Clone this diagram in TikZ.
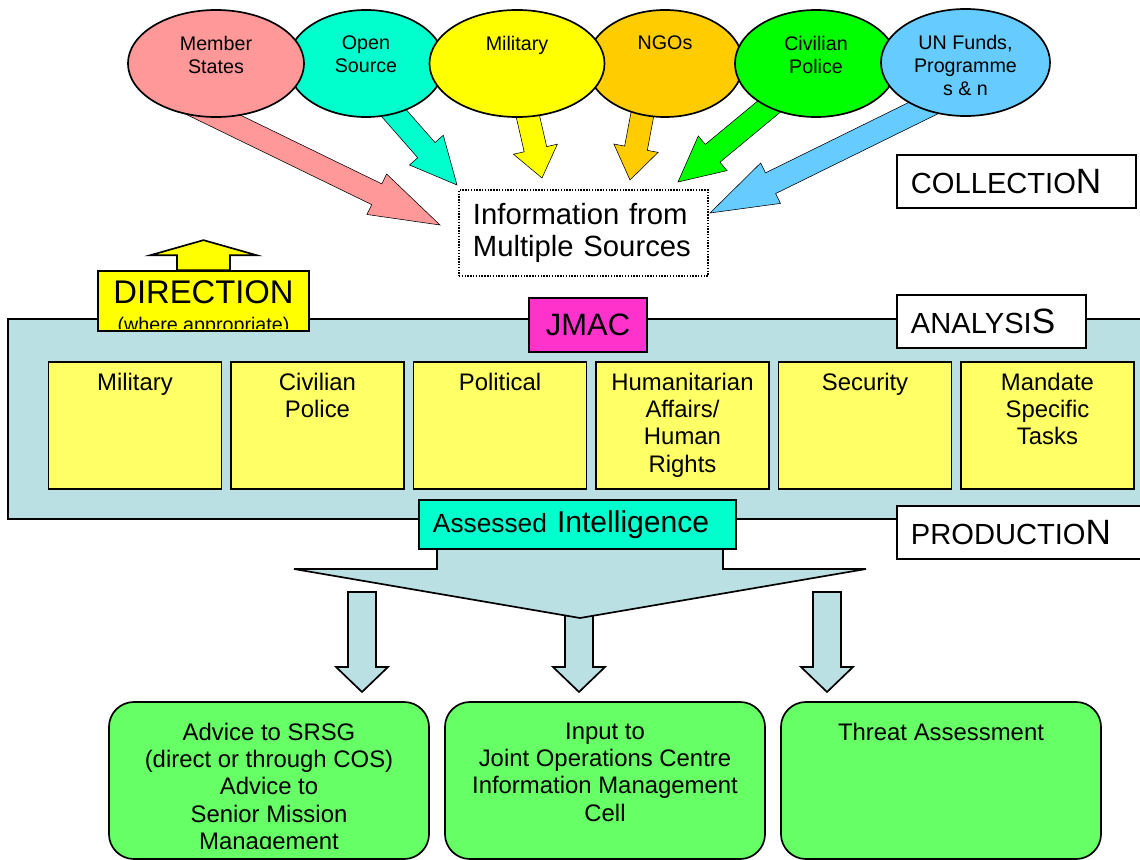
\documentclass[tikz,border=0pt]{standalone}
\usepackage{fontspec}
\setmainfont{Liberation Sans}
\usetikzlibrary{shapes.geometric, positioning, calc, backgrounds}

\definecolor{msred}{RGB}{255,153,153}
\definecolor{osrccyan}{RGB}{0,255,204}
\definecolor{milyellow}{RGB}{255,255,0}
\definecolor{ngoorange}{RGB}{255,204,0}
\definecolor{civgreen}{RGB}{0,255,0}
\definecolor{unblue}{RGB}{102,204,255}
\definecolor{bandblue}{RGB}{187,224,227}
\definecolor{cellyellow}{RGB}{255,255,102}
\definecolor{jmacpink}{RGB}{255,51,204}
\definecolor{outgreen}{RGB}{102,255,102}

% block arrow: from, to, fill, shaft half width, head half width, head length
\newcommand{\fatarrow}[6]{%
  \draw[fill=#3, line join=miter]
    ($(#1)!#4!90:(#2)$) --
    ($(#2)!#6!(#1)!#4!-90:(#1)$) --
    ($(#2)!#6!(#1)!#5!-90:(#1)$) -- (#2) --
    ($(#2)!#6!(#1)!#5!90:(#1)$) --
    ($(#2)!#6!(#1)!#4!90:(#1)$) --
    ($(#1)!#4!-90:(#2)$) -- cycle;}

\begin{document}
\begin{tikzpicture}[x=0.025cm, y=-0.025cm, line width=1.2pt,
  src/.style={ellipse, draw, minimum width=#1, minimum height=2.675cm},
  srctext/.style={align=center, inner sep=0pt, font=\fontsize{14}{16.4}\selectfont},
  stage/.style={draw, fill=white, minimum height=1.325cm, inner xsep=0.35cm, align=left, font=\fontsize{20.7}{23}\selectfont},
  cellbox/.style={draw, fill=cellyellow, minimum width=4.325cm, minimum height=3.175cm},
  celltext/.style={align=center, inner sep=0pt, font=\fontsize{17}{19.4}\selectfont},
  outbox/.style={draw, fill=outgreen, rounded corners=0.625cm, minimum width=8cm, minimum height=3.925cm},
  outtext/.style={align=center, inner sep=0pt, font=\fontsize{17}{19.4}\selectfont}]
\useasboundingbox (0,0) rectangle (1140,860);

% Sources
\node[src=3.925cm, fill=osrccyan] (osrc) at (366,63.5) {};
\node[src=3.9cm, fill=ngoorange] (ngo) at (665,63.5) {};
\node[src=4.4cm, fill=msred] (ms) at (216,63.5) {};
\node[src=4.375cm, fill=milyellow] (mil) at (517,63.5) {};
\node[src=4.05cm, fill=civgreen] (civ) at (816,63.5) {};
\node[src=4.225cm, fill=unblue] (un) at (965.5,62.5) {};

\node[srctext, below=0.65cm of ms.north] {Member\\States};
\node[srctext, below=0.65cm of osrc.north] {Open\\Source};
\node[srctext, below=0.65cm of mil.north] {Military};
\node[srctext, below=0.65cm of ngo.north] {NGOs};
\node[srctext, below=0.65cm of civ.north] {Civilian\\Police};
\node[srctext, below=0.65cm of un.north] {UN Funds,\\Programme\\s \& n};

\node[draw, dash pattern=on 1pt off 1pt, line width=0.8pt, minimum width=6.225cm, minimum height=2.15cm,
  inner xsep=0.35cm, text width=5.525cm, align=left, font=\fontsize{20.8}{22.8}\selectfont]
  (info) at (583.5,233) {Information from\\Multiple Sources};
\node[stage, text width=5.275cm] (coll) at (1016.5,181.5) {COLLECTIO{\fontsize{25}{28}\selectfont N}};

% Collection arrows
\coordinate (ms-tail) at (183,100);   \coordinate (ms-tip) at (440,225);
\coordinate (osrc-tail) at (378,95);  \coordinate (osrc-tip) at (457,185);
\coordinate (mil-tail) at (523,95);   \coordinate (mil-tip) at (542,178);
\coordinate (ngo-tail) at (646,95);   \coordinate (ngo-tip) at (630,180);
\coordinate (civ-tail) at (783,95);   \coordinate (civ-tip) at (678,182);
\coordinate (un-tail) at (950,95);    \coordinate (un-tip) at (710,213);
\begin{scope}[on background layer]
\fatarrow{ms-tail}{ms-tip}{msred}{8.2pt}{16pt}{50pt}
\fatarrow{osrc-tail}{osrc-tip}{osrccyan}{8.2pt}{16pt}{33pt}
\fatarrow{mil-tail}{mil-tip}{milyellow}{8.2pt}{16pt}{21pt}
\fatarrow{ngo-tail}{ngo-tip}{ngoorange}{8.2pt}{16pt}{23pt}
\fatarrow{civ-tail}{civ-tip}{civgreen}{8.2pt}{16pt}{32pt}
\fatarrow{un-tail}{un-tip}{unblue}{8.2pt}{16pt}{48pt}
\end{scope}

% Analysis band
\node[draw, fill=bandblue, minimum width=28.55cm, minimum height=5cm] (band) at (579,419) {};

\node[draw, fill=milyellow, minimum width=5.275cm, minimum height=1.5cm] (dir) at (203.5,301) {};
\coordinate (dir-tip) at ($(dir.north)+(0,-30)$);
\fatarrow{dir.north}{dir-tip}{milyellow}{18.8pt}{37.7pt}{10.7pt}
\begin{scope}
\clip (dir.north west) rectangle ($(dir.south east)+(0,-3)$);
\node[align=center, inner sep=0pt, font=\fontsize{23.3}{20}\selectfont, below=0.24cm of dir.north]
  {DIRECTION\\{\fontsize{14}{20}\selectfont (where appropriate)}};
\end{scope}

\node[draw, fill=jmacpink, minimum width=2.95cm, minimum height=1.35cm, font=\fontsize{22}{26}\selectfont] (jmac) at (588,325) {JMAC};
\node[stage, text width=4.025cm] (ana) at (991.5,321.5) {ANALYSI{\fontsize{25}{28}\selectfont S}};

\foreach \n/\t [count=\i from 0] in {amil/Military, acivpol/{Civilian\\Police}, apol/Political,
    ahum/{Humanitarian\\Affairs/\\Human\\Rights}, asec/Security, amand/{Mandate\\Specific\\Tasks}}{
  \node[cellbox] (\n) at (135+182.5*\i,425.5) {};
  \node[celltext, below=0.275cm of \n.north] {\t};
}

% Production
\coordinate (l-top) at (362,592);  \coordinate (l-tip) at (362,692);
\coordinate (m-top) at (579,600);  \coordinate (m-tip) at (579,692);
\coordinate (r-top) at (827,592);  \coordinate (r-tip) at (827,692);
\fatarrow{l-top}{l-tip}{bandblue}{10pt}{18.5pt}{17.8pt}
\fatarrow{m-top}{m-tip}{bandblue}{10pt}{18.5pt}{17.8pt}
\fatarrow{r-top}{r-tip}{bandblue}{10pt}{18.5pt}{17.8pt}
\draw[fill=bandblue] (437,540) -- (437,569) -- (294,569) -- (580,618) -- (866,569) -- (723,569) -- (723,540);

\node[stage, fill=osrccyan, minimum height=1.225cm, text width=7.225cm, font=\fontsize{21.4}{24}\selectfont]
  (ai) at (577.5,524.5) {{\fontsize{18.7}{22}\selectfont Assessed} Intelligence};
\node[stage, text width=5.5cm] (prod) at (1021,532.5) {PRODUCTIO{\fontsize{25}{28}\selectfont N}};

% Outputs
\node[outbox] (adv) at (269,780.5) {};
\node[outbox] (jocinput) at (605,780.5) {};
\node[outbox] (threat) at (941,780.5) {};
\begin{scope}
\clip (adv.north west) rectangle ($(adv.south east)+(0,-11)$);
\node[outtext, below=0.525cm of adv.north] {Advice to SRSG\\(direct or through COS)\\Advice to\\Senior Mission\\Management};
\end{scope}
\node[outtext, below=0.525cm of jocinput.north] {Input to\\Joint Operations Centre\\Information Management\\Cell};
\node[outtext, below=0.525cm of threat.north] {Threat Assessment};
\end{tikzpicture}
\end{document}
